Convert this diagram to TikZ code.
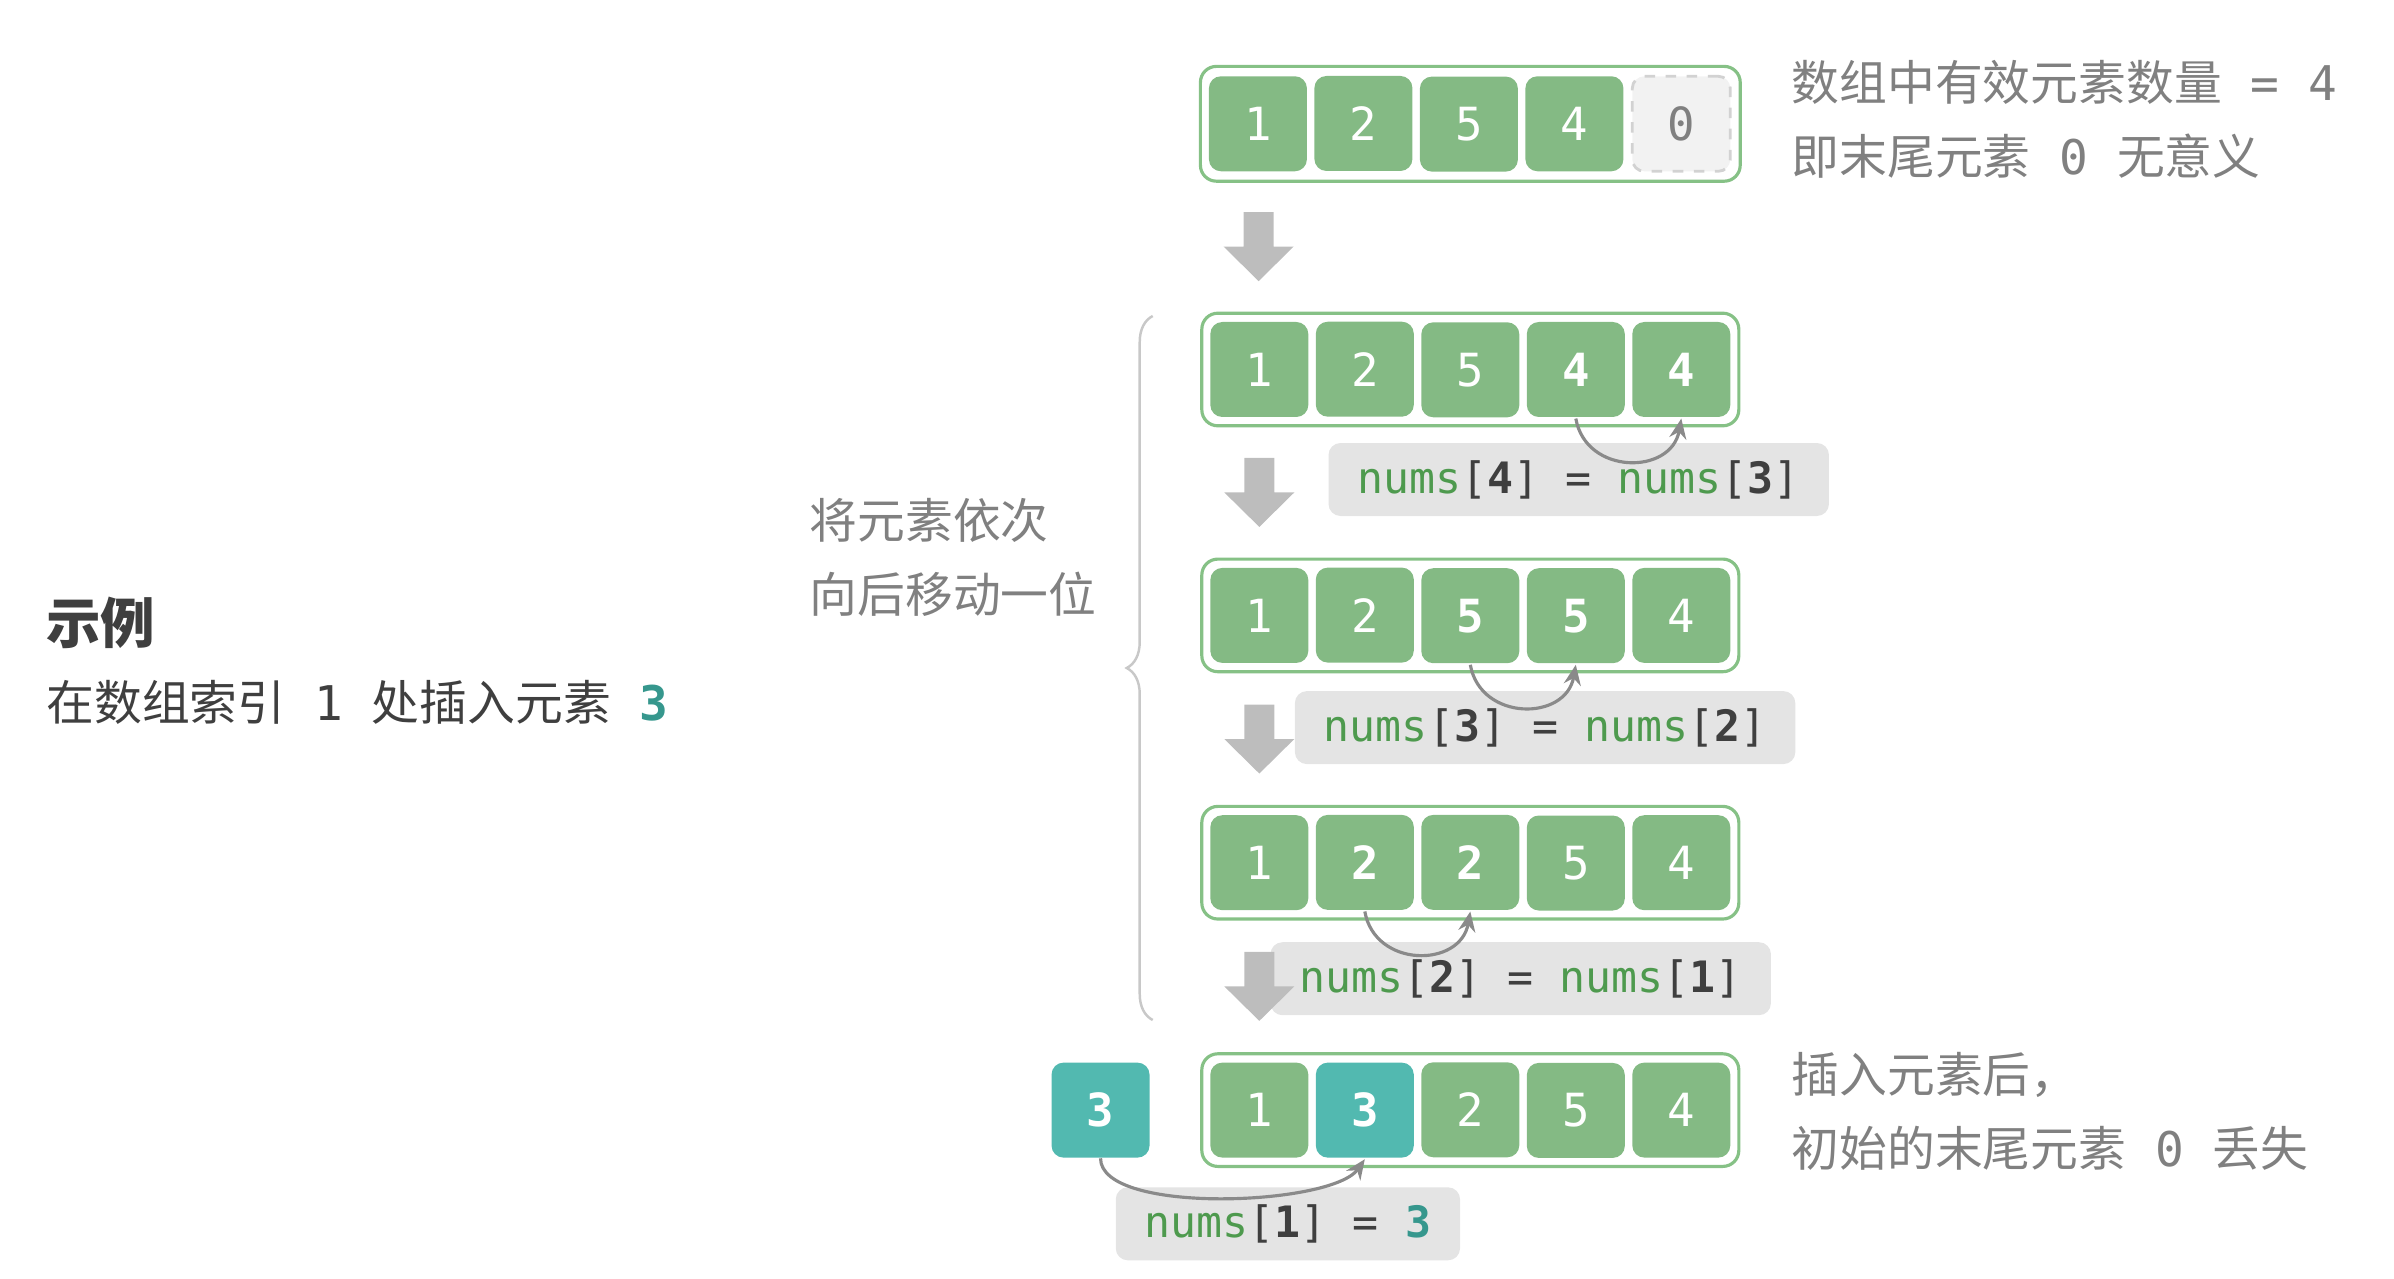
\documentclass[tikz,border=0pt]{standalone}
\usepackage{fontspec}
\setmainfont{Noto Sans CJK SC}
\setmonofont{DejaVu Sans Mono}
\usepackage{xcolor}
\usepackage{tikz}
\usetikzlibrary{arrows.meta,calc,positioning,matrix,decorations.pathreplacing}

\definecolor{cellgreen}{HTML}{84BA84}
\definecolor{rimgreen}{HTML}{86C186}
\definecolor{codegreen}{HTML}{4E9A4E}
\definecolor{cellteal}{HTML}{52B9B0}
\definecolor{textteal}{HTML}{36978D}
\definecolor{notegray}{HTML}{808080}
\definecolor{darktext}{HTML}{3F3F3F}
\definecolor{boxgray}{HTML}{E4E4E4}
\definecolor{arrowgray}{HTML}{BDBDBD}
\definecolor{curvegray}{HTML}{8A8A8A}
\definecolor{bracegray}{HTML}{C8C8C8}

\newcommand{\cnsize}{\fontsize{13.6}{16}\selectfont}
\newcommand{\idx}[1]{\textcolor{codegreen}{nums}[\textbf{#1}]}

\tikzset{
  elem/.style={rounded corners=0.12cm,fill=cellgreen,text=white,minimum width=0.98cm,minimum height=0.95cm,inner sep=0pt,font=\ttfamily\fontsize{13}{15}\selectfont},
  hot/.style={font=\ttfamily\bfseries\fontsize{13}{15}\selectfont},
  voidcell/.style={fill=gray!10,draw=gray!35,dashed,line width=0.8pt,text=notegray},
  tealcell/.style={fill=cellteal},
  arraybox/.style={matrix of nodes,nodes={elem},column sep=0.075cm,inner sep=0.085cm,draw=rimgreen,line width=0.9pt,rounded corners=0.16cm},
  codebox/.style={fill=boxgray,rounded corners=0.12cm,minimum height=0.73cm,inner xsep=0.29cm,inner ysep=0pt,text=darktext,font=\ttfamily\fontsize{12.3}{14}\selectfont},
  movearrow/.style={-{Stealth[length=0.2cm,width=0.17cm]},curvegray,line width=0.9pt},
  remark/.style={anchor=west,inner sep=0pt,text=notegray,font=\cnsize},
  stepdown/.pic={\fill[arrowgray] (-0.15,0.345) -- (0.15,0.345) -- (0.15,0) -- (0.35,0) -- (0,-0.345) -- (-0.35,0) -- (-0.15,0) -- cycle;}
}

\begin{document}
\begin{tikzpicture}
  \useasboundingbox (0,0) rectangle (23.94,12.78);

  % arrays
  \matrix[arraybox] (r1) at (14.703,11.542) {
  1 & 2 & 5 & 4 & |[voidcell]| 0 \\
  };
  \matrix[arraybox] (r2) at (14.703,9.085) {
  1 & 2 & 5 & |[hot]| 4 & |[hot]| 4 \\
  };
  \matrix[arraybox] (r3) at (14.703,6.626) {
  1 & 2 & |[hot]| 5 & |[hot]| 5 & 4 \\
  };
  \matrix[arraybox] (r4) at (14.703,4.153) {
  1 & |[hot]| 2 & |[hot]| 2 & 5 & 4 \\
  };
  \matrix[arraybox] (r5) at (14.703,1.679) {
  1 & |[tealcell,hot]| 3 & 2 & 5 & 4 \\
  };
  \node[elem,tealcell,hot,left=0.5cm of r5] (ins) {3};

  % assignments
  \node[codebox] (c2) at (15.787,7.985) {\idx{4} = \idx{3}};
  \node[codebox] (c3) at (15.451,5.504) {\idx{3} = \idx{2}};
  \node[codebox] (c4) at (15.207,2.993) {\idx{2} = \idx{1}};
  \node[codebox] (c5) at (12.879,0.542) {\idx{1} = \textcolor{textteal}{\textbf{3}}};

  \foreach \a/\b in {r1/r2,r2/r3,r3/r4,r4/r5}
    \pic at ($(\a-1-1.south)!0.5!(\b-1-1.north)$) {stepdown};

  \foreach \r/\f/\t in {r2/4/5,r3/3/4,r4/2/3}
    \draw[movearrow] (\r-1-\f.south) to[out=-80,in=-100,looseness=1.4] (\r-1-\t.south);
  \draw[movearrow] (ins.south) to[out=-90,in=-125,looseness=0.55] (r5-1-2.south);

  % brace
  \coordinate (blow) at (11.527,2.58);
  \coordinate (bhigh) at (11.527,9.62);
  \draw[bracegray,line width=0.7pt,decorate,decoration={brace,amplitude=0.26cm}] (blow) -- (bhigh);

  % texts
  \node[remark,text=darktext,font=\fontsize{15.5}{18}\selectfont\bfseries] (title) at (0.458,6.55) {示例};
  \node[remark,text=darktext] (task) at (0.458,5.756) {在数组索引\texttt{ 1 }处插入元素\texttt{ \textbf{\textcolor{textteal}{3}}}};
  \node[remark] (move1) at (8.09,7.573) {将元素依次};
  \node[remark] (move2) at (8.09,6.840) {向后移动一位};
  \node[remark] (count) at (17.91,11.955) {数组中有效元素数量\texttt{ = 4}};
  \node[remark] (mean) at (17.91,11.222) {即末尾元素\texttt{ 0 }无意义};
  \node[remark] (after) at (17.91,2.031) {插入元素后，};
  \node[remark] (lost) at (17.91,1.298) {初始的末尾元素\texttt{ 0 }丢失};
\end{tikzpicture}
\end{document}
